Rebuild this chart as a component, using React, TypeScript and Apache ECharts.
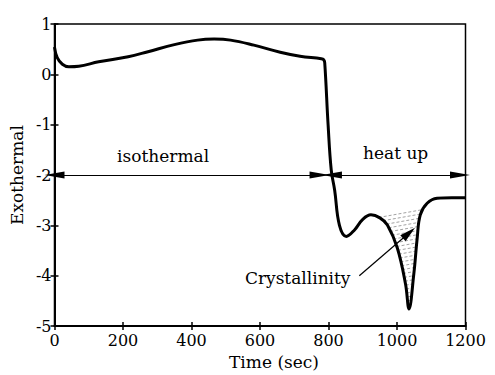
import React, { useEffect, useRef } from "react";
import * as echarts from "echarts";

// DSC trace: heat flow (exothermal) vs time, isothermal hold then heat up
const timeSec = [
  0, 8, 23, 42, 71, 129, 215, 273, 350, 418, 466, 514, 582, 659, 717, 779, 786,
  789, 799, 808, 818, 832, 852, 876, 900, 924, 950, 972, 1001, 1025, 1035, 1049,
  1059, 1068, 1088, 1117, 1160, 1200,
];
const exothermal = [
  0.54, 0.33, 0.2, 0.15, 0.16, 0.25, 0.35, 0.45, 0.59, 0.68, 0.7, 0.68, 0.58,
  0.44, 0.36, 0.31, 0.29, 0.23, -1.02, -1.9, -2.3, -3.0, -3.22, -3.09, -2.88,
  -2.79, -2.85, -2.99, -3.45, -4.17, -4.66, -3.97, -3.25, -2.79, -2.56, -2.46,
  -2.45, -2.45,
];

// axis ranges
const X_MIN = 0;
const X_MAX = 1200;
const X_STEP = 200;
const Y_MIN = -5;
const Y_MAX = 1;
const Y_STEP = 1;

// crystallisation peak: hatched between baseline chord and curve
const hatchStartSec = 924;
const hatchEndSec = 1085;
const hatchSpacing = 0.08;

// phase arrows at y = -2
const phaseLevel = -2;
const isothermalSpan = [0, 774];
const heatUpSpan = [810, 1184];
const crystallinityArrow = [
  [890, -4.0],
  [1035, -3.15],
];

const annotations = [
  { text: "isothermal", at: [317, -1.63] },
  { text: "heat up", at: [996, -1.57] },
  { text: "Crystallinity", at: [710, -4.04] },
];

const FONT = "DejaVu Serif";

function curveAt(t: number): number {
  for (let i = 0; i < timeSec.length - 1; i++) {
    const t0 = timeSec[i];
    const t1 = timeSec[i + 1];
    if (t >= t0 && t <= t1) {
      const f = t1 === t0 ? 0 : (t - t0) / (t1 - t0);
      return exothermal[i] + f * (exothermal[i + 1] - exothermal[i]);
    }
  }
  return exothermal[exothermal.length - 1];
}

function hatchLines(): number[][][] {
  const yA = curveAt(hatchStartSec);
  const yB = curveAt(hatchEndSec);
  const chord = (t: number) =>
    yA + ((t - hatchStartSec) / (hatchEndSec - hatchStartSec)) * (yB - yA);
  const ts: number[] = [hatchStartSec];
  timeSec.forEach((t) => {
    if (t > hatchStartSec && t < hatchEndSec) ts.push(t);
  });
  ts.push(hatchEndSec);
  const out: number[][][] = [];
  for (let k = 1; k < 200; k++) {
    const d = k * hatchSpacing;
    const g = (t: number) => curveAt(t) - chord(t) + d;
    const crossings: number[] = [];
    for (let i = 0; i < ts.length - 1; i++) {
      const a = g(ts[i]);
      const b = g(ts[i + 1]);
      if ((a > 0 && b <= 0) || (a <= 0 && b > 0)) {
        crossings.push(ts[i] + (a / (a - b)) * (ts[i + 1] - ts[i]));
      }
    }
    if (crossings.length < 2) break;
    const tl = crossings[0];
    const tr = crossings[crossings.length - 1];
    out.push([
      [tl, chord(tl) - d],
      [tr, chord(tr) - d],
    ]);
  }
  return out;
}

export default function App() {
  const ref = useRef<HTMLDivElement>(null);

  useEffect(() => {
    if (!ref.current) return;
    const chart = echarts.init(ref.current, null, { renderer: "svg" });
    const hatch = hatchLines();

    const tickText = { color: "#000", fontFamily: FONT, fontSize: 16 };
    const nameText = { color: "#000", fontFamily: FONT, fontSize: 17 };
    const tickStyle = { color: "#000", width: 1.5 };

    chart.setOption({
      animation: false,
      backgroundColor: "#fff",
      grid: {
        left: 50.5,
        right: 29.5,
        top: 24,
        bottom: 46,
        show: true,
        borderColor: "#000",
        borderWidth: 1.5,
        backgroundColor: "transparent",
      },
      xAxis: [
        {
          type: "value",
          min: X_MIN,
          max: X_MAX,
          interval: X_STEP,
          name: "Time (sec)",
          nameLocation: "middle",
          nameGap: 22,
          nameTextStyle: { ...nameText, padding: [0, 0, 0, 28] },
          axisLine: { show: true, onZero: false, lineStyle: { color: "#000", width: 2 } },
          axisTick: { show: true, inside: false, length: 4, lineStyle: tickStyle },
          axisLabel: { ...tickText, margin: 6, formatter: (v: number) => String(v) },
          splitLine: { show: false },
        },
        {
          type: "value",
          position: "bottom",
          min: X_MIN,
          max: X_MAX,
          interval: X_STEP,
          axisLine: { show: false, onZero: false },
          axisTick: { show: true, inside: true, length: 4, lineStyle: tickStyle },
          axisLabel: { show: false },
          splitLine: { show: false },
        },
      ],
      yAxis: [
        {
          type: "value",
          min: Y_MIN,
          max: Y_MAX,
          interval: Y_STEP,
          name: "Exothermal",
          nameLocation: "middle",
          nameGap: 23,
          nameTextStyle: nameText,
          axisLine: { show: true, onZero: false, lineStyle: { color: "#000", width: 2 } },
          axisTick: { show: true, inside: false, length: 4, lineStyle: tickStyle },
          axisLabel: { ...tickText, margin: 3, formatter: (v: number) => String(v) },
          splitLine: { show: false },
        },
        {
          type: "value",
          position: "left",
          min: Y_MIN,
          max: Y_MAX,
          interval: Y_STEP,
          axisLine: { show: false, onZero: false },
          axisTick: { show: true, inside: true, length: 4, lineStyle: tickStyle },
          axisLabel: { show: false },
          splitLine: { show: false },
        },
      ],
      series: [
        {
          type: "custom",
          name: "crystallinity",
          silent: true,
          z: 1,
          data: [[hatchStartSec, curveAt(hatchStartSec)]],
          encode: { x: 0, y: 1 },
          renderItem: (_params: any, api: any) => ({
            type: "group",
            children: hatch.map((seg) => {
              const p1 = api.coord(seg[0]);
              const p2 = api.coord(seg[1]);
              return {
                type: "line",
                shape: { x1: p1[0], y1: p1[1], x2: p2[0], y2: p2[1] },
                style: { stroke: "#8a8a8a", lineWidth: 0.8, lineDash: [3, 2] },
              };
            }),
          }),
        },
        {
          type: "line",
          name: "Exothermal",
          z: 3,
          data: timeSec.map((t, i) => [t, exothermal[i]]),
          showSymbol: false,
          symbol: "none",
          smooth: 0.4,
          lineStyle: { color: "#000", width: 3 },
          silent: true,
          markLine: {
            silent: true,
            animation: false,
            symbol: ["triangle", "triangle"],
            symbolSize: [7, 20],
            label: { show: false },
            lineStyle: { color: "#000", width: 1.2, type: "solid" },
            emphasis: { disabled: true },
            data: [
              [
                { coord: [isothermalSpan[0], phaseLevel] },
                { coord: [isothermalSpan[1], phaseLevel] },
              ],
              [
                { coord: [heatUpSpan[0], phaseLevel] },
                { coord: [heatUpSpan[1], phaseLevel] },
              ],
              [
                { coord: crystallinityArrow[0], symbol: "none" },
                { coord: crystallinityArrow[1], symbol: "triangle", symbolSize: [8, 16] },
              ],
            ],
          },
          markPoint: {
            silent: true,
            symbol: "circle",
            symbolSize: 0,
            data: annotations.map((a) => ({
              coord: a.at,
              label: {
                show: true,
                position: "inside",
                formatter: a.text,
                color: "#000",
                fontFamily: FONT,
                fontSize: 17,
              },
            })),
          },
        },
      ],
    });

    return () => chart.dispose();
  }, []);

  return (
    <div
      ref={ref}
      style={{ position: "fixed", left: 0, top: 0, width: 495, height: 375, background: "#fff" }}
    />
  );
}
